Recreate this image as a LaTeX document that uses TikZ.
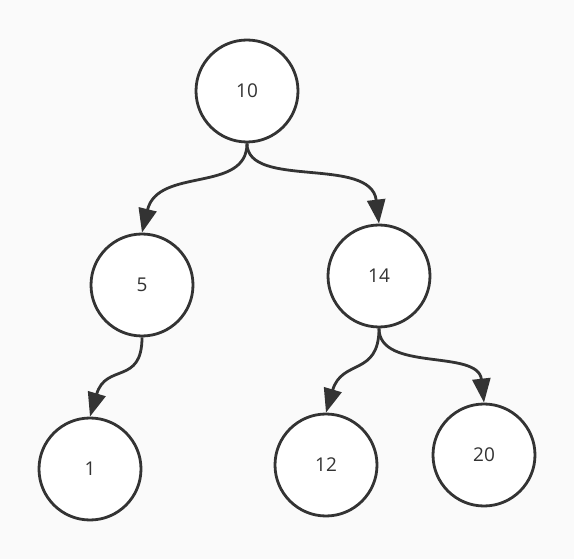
\documentclass[tikz,border=0pt]{standalone}
\usepackage{fontspec}
\setmainfont{Open Sans}
\usetikzlibrary{arrows.meta}
\definecolor{ink}{HTML}{333333}
\definecolor{bg}{HTML}{FAFAFA}
\begin{document}
\begin{tikzpicture}[x=1pt,y=-1pt,
  treenode/.style={circle,draw=ink,line width=2.8pt,fill=white,minimum size=102pt,inner sep=0pt,font=\fontsize{19}{22}\selectfont,text=ink},
  edge/.style={draw=ink,line width=2.8pt,-{Triangle[length=24pt,width=18pt]}}]
\fill[bg] (0,0) rectangle (574,559);
\useasboundingbox (0,0) rectangle (574,559);
\node[treenode] (n10) at (247,91) {10};
\node[treenode] (n5) at (142,285) {5};
\node[treenode] (n14) at (379,276) {14};
\node[treenode] (n1) at (90,469) {1};
\node[treenode] (n12) at (326,465) {12};
\node[treenode] (n20) at (484,455) {20};
\draw[edge] (n10.south) .. controls ++(0,50) and ([xshift=16pt,yshift=66pt]n5.north) .. (n5.north);
\draw[edge] (n10.south) .. controls ++(0,46) and ([xshift=-8pt,yshift=68pt]n14.north) .. (n14.north);
\draw[edge] (n5.south) .. controls ++(0,48) and ([xshift=16pt,yshift=54pt]n1.north) .. (n1.north);
\draw[edge] (n14.south) .. controls ++(0,48) and ([xshift=16pt,yshift=54pt]n12.north) .. (n12.north);
\draw[edge] (n14.south) .. controls ++(0,44) and ([xshift=-6pt,yshift=54pt]n20.north) .. (n20.north);
\end{tikzpicture}
\end{document}
